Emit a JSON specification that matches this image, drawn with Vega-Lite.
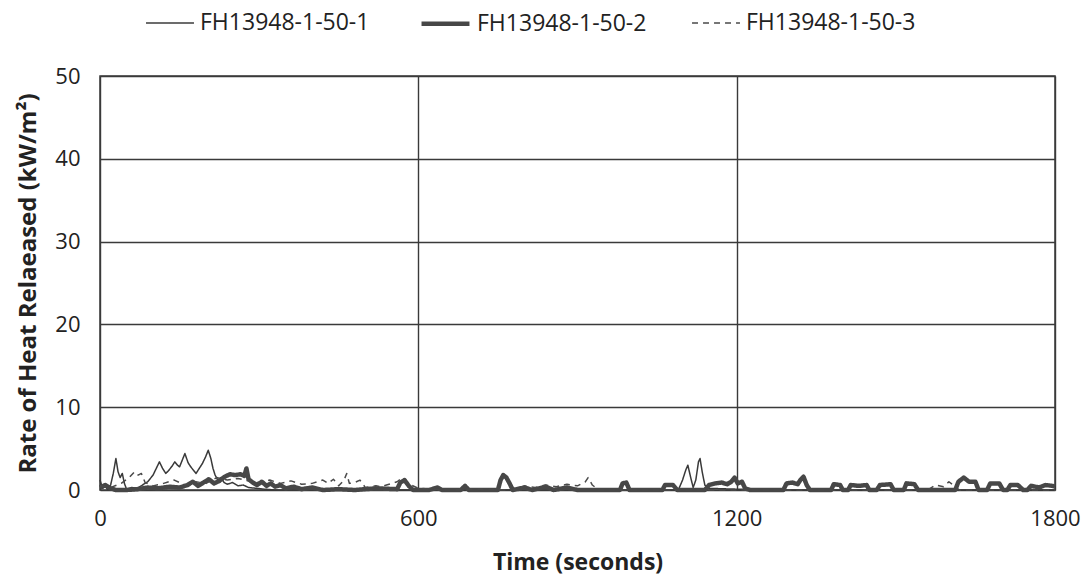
{
  "$schema": "https://vega.github.io/schema/vega-lite/v6.json",
  "autosize": {"type": "none"},
  "width": 955,
  "height": 414,
  "padding": {"left": 100, "top": 76, "right": 30, "bottom": 91},
  "background": "white",
  "config": {
    "font": "Open Sans",
    "view": {"stroke": "#3a3a3a", "strokeWidth": 1.5},
    "axis": {
      "gridColor": "#3a3a3a", "gridWidth": 1.4, "gridOpacity": 1,
      "domain": false, "ticks": false,
      "labelFont": "Open Sans", "labelFontSize": 22, "labelColor": "#222",
      "titleFont": "Open Sans", "titleFontSize": 23, "titleFontWeight": "bold", "titleColor": "#222"
    },
    "legend": {"labelFont": "Open Sans", "labelFontSize": 23, "labelColor": "#222", "labelLimit": 0, "padding": 0}
  },
  "datasets": {
    "rows": [
      {"t":0,"v":1.2,"s":"FH13948-1-50-1"},{"t":5,"v":0.2,"s":"FH13948-1-50-1"},{"t":10,"v":0.4,"s":"FH13948-1-50-1"},{"t":15,"v":0.0,"s":"FH13948-1-50-1"},{"t":20,"v":0.6,"s":"FH13948-1-50-1"},{"t":25,"v":2.0,"s":"FH13948-1-50-1"},{"t":30,"v":3.8,"s":"FH13948-1-50-1"},{"t":34,"v":2.2,"s":"FH13948-1-50-1"},{"t":38,"v":1.5,"s":"FH13948-1-50-1"},{"t":42,"v":2.0,"s":"FH13948-1-50-1"},{"t":46,"v":0.8,"s":"FH13948-1-50-1"},{"t":50,"v":0.1,"s":"FH13948-1-50-1"},{"t":60,"v":0.3,"s":"FH13948-1-50-1"},{"t":70,"v":0.2,"s":"FH13948-1-50-1"},{"t":80,"v":0.6,"s":"FH13948-1-50-1"},{"t":90,"v":1.0,"s":"FH13948-1-50-1"},{"t":100,"v":1.8,"s":"FH13948-1-50-1"},{"t":106,"v":2.6,"s":"FH13948-1-50-1"},{"t":112,"v":3.4,"s":"FH13948-1-50-1"},{"t":118,"v":2.6,"s":"FH13948-1-50-1"},{"t":124,"v":2.0,"s":"FH13948-1-50-1"},{"t":130,"v":2.4,"s":"FH13948-1-50-1"},{"t":136,"v":2.9,"s":"FH13948-1-50-1"},{"t":141,"v":3.4,"s":"FH13948-1-50-1"},{"t":146,"v":3.0,"s":"FH13948-1-50-1"},{"t":150,"v":2.8,"s":"FH13948-1-50-1"},{"t":155,"v":3.6,"s":"FH13948-1-50-1"},{"t":160,"v":4.4,"s":"FH13948-1-50-1"},{"t":166,"v":3.3,"s":"FH13948-1-50-1"},{"t":171,"v":2.8,"s":"FH13948-1-50-1"},{"t":176,"v":2.4,"s":"FH13948-1-50-1"},{"t":181,"v":2.0,"s":"FH13948-1-50-1"},{"t":187,"v":2.6,"s":"FH13948-1-50-1"},{"t":193,"v":3.2,"s":"FH13948-1-50-1"},{"t":199,"v":4.0,"s":"FH13948-1-50-1"},{"t":204,"v":4.8,"s":"FH13948-1-50-1"},{"t":209,"v":3.8,"s":"FH13948-1-50-1"},{"t":213,"v":2.6,"s":"FH13948-1-50-1"},{"t":217,"v":1.8,"s":"FH13948-1-50-1"},{"t":222,"v":1.2,"s":"FH13948-1-50-1"},{"t":228,"v":1.5,"s":"FH13948-1-50-1"},{"t":234,"v":0.9,"s":"FH13948-1-50-1"},{"t":240,"v":0.7,"s":"FH13948-1-50-1"},{"t":250,"v":0.9,"s":"FH13948-1-50-1"},{"t":260,"v":0.5,"s":"FH13948-1-50-1"},{"t":270,"v":0.6,"s":"FH13948-1-50-1"},{"t":280,"v":0.3,"s":"FH13948-1-50-1"},{"t":295,"v":0.2,"s":"FH13948-1-50-1"},{"t":310,"v":0.1,"s":"FH13948-1-50-1"},{"t":330,"v":0.0,"s":"FH13948-1-50-1"},{"t":400,"v":0.0,"s":"FH13948-1-50-1"},{"t":500,"v":0.0,"s":"FH13948-1-50-1"},{"t":600,"v":0.0,"s":"FH13948-1-50-1"},{"t":700,"v":0.0,"s":"FH13948-1-50-1"},{"t":800,"v":0.0,"s":"FH13948-1-50-1"},{"t":900,"v":0.0,"s":"FH13948-1-50-1"},{"t":1000,"v":0.0,"s":"FH13948-1-50-1"},{"t":1090,"v":0.0,"s":"FH13948-1-50-1"},{"t":1098,"v":1.2,"s":"FH13948-1-50-1"},{"t":1104,"v":2.4,"s":"FH13948-1-50-1"},{"t":1108,"v":3.0,"s":"FH13948-1-50-1"},{"t":1113,"v":1.6,"s":"FH13948-1-50-1"},{"t":1118,"v":0.3,"s":"FH13948-1-50-1"},{"t":1123,"v":1.2,"s":"FH13948-1-50-1"},{"t":1128,"v":3.4,"s":"FH13948-1-50-1"},{"t":1131,"v":3.8,"s":"FH13948-1-50-1"},{"t":1135,"v":2.2,"s":"FH13948-1-50-1"},{"t":1140,"v":0.6,"s":"FH13948-1-50-1"},{"t":1146,"v":0.2,"s":"FH13948-1-50-1"},{"t":1200,"v":0.1,"s":"FH13948-1-50-1"},{"t":1300,"v":0.0,"s":"FH13948-1-50-1"},{"t":1400,"v":0.0,"s":"FH13948-1-50-1"},{"t":1500,"v":0.0,"s":"FH13948-1-50-1"},{"t":1600,"v":0.0,"s":"FH13948-1-50-1"},{"t":1700,"v":0.0,"s":"FH13948-1-50-1"},{"t":1800,"v":0.0,"s":"FH13948-1-50-1"},

      {"t":0,"v":0.3,"s":"FH13948-1-50-2"},{"t":10,"v":0.6,"s":"FH13948-1-50-2"},{"t":20,"v":0.2,"s":"FH13948-1-50-2"},{"t":30,"v":0.0,"s":"FH13948-1-50-2"},{"t":50,"v":0.0,"s":"FH13948-1-50-2"},{"t":70,"v":0.1,"s":"FH13948-1-50-2"},{"t":90,"v":0.3,"s":"FH13948-1-50-2"},{"t":110,"v":0.2,"s":"FH13948-1-50-2"},{"t":130,"v":0.4,"s":"FH13948-1-50-2"},{"t":150,"v":0.3,"s":"FH13948-1-50-2"},{"t":165,"v":0.6,"s":"FH13948-1-50-2"},{"t":175,"v":1.0,"s":"FH13948-1-50-2"},{"t":185,"v":0.5,"s":"FH13948-1-50-2"},{"t":195,"v":0.9,"s":"FH13948-1-50-2"},{"t":205,"v":1.3,"s":"FH13948-1-50-2"},{"t":215,"v":0.8,"s":"FH13948-1-50-2"},{"t":225,"v":1.1,"s":"FH13948-1-50-2"},{"t":235,"v":1.6,"s":"FH13948-1-50-2"},{"t":245,"v":1.9,"s":"FH13948-1-50-2"},{"t":255,"v":1.8,"s":"FH13948-1-50-2"},{"t":265,"v":1.9,"s":"FH13948-1-50-2"},{"t":272,"v":1.7,"s":"FH13948-1-50-2"},{"t":276,"v":2.6,"s":"FH13948-1-50-2"},{"t":280,"v":1.3,"s":"FH13948-1-50-2"},{"t":288,"v":0.9,"s":"FH13948-1-50-2"},{"t":296,"v":0.6,"s":"FH13948-1-50-2"},{"t":305,"v":1.0,"s":"FH13948-1-50-2"},{"t":314,"v":0.5,"s":"FH13948-1-50-2"},{"t":322,"v":0.8,"s":"FH13948-1-50-2"},{"t":330,"v":0.4,"s":"FH13948-1-50-2"},{"t":340,"v":0.6,"s":"FH13948-1-50-2"},{"t":350,"v":0.2,"s":"FH13948-1-50-2"},{"t":365,"v":0.4,"s":"FH13948-1-50-2"},{"t":380,"v":0.1,"s":"FH13948-1-50-2"},{"t":400,"v":0.3,"s":"FH13948-1-50-2"},{"t":420,"v":0.0,"s":"FH13948-1-50-2"},{"t":450,"v":0.1,"s":"FH13948-1-50-2"},{"t":480,"v":0.0,"s":"FH13948-1-50-2"},{"t":520,"v":0.2,"s":"FH13948-1-50-2"},{"t":560,"v":0.1,"s":"FH13948-1-50-2"},{"t":566,"v":0.9,"s":"FH13948-1-50-2"},{"t":574,"v":1.2,"s":"FH13948-1-50-2"},{"t":582,"v":0.5,"s":"FH13948-1-50-2"},{"t":590,"v":0.0,"s":"FH13948-1-50-2"},{"t":620,"v":0.0,"s":"FH13948-1-50-2"},{"t":636,"v":0.3,"s":"FH13948-1-50-2"},{"t":645,"v":0.0,"s":"FH13948-1-50-2"},{"t":680,"v":0.0,"s":"FH13948-1-50-2"},{"t":688,"v":0.5,"s":"FH13948-1-50-2"},{"t":695,"v":0.0,"s":"FH13948-1-50-2"},{"t":750,"v":0.0,"s":"FH13948-1-50-2"},{"t":755,"v":1.2,"s":"FH13948-1-50-2"},{"t":760,"v":1.8,"s":"FH13948-1-50-2"},{"t":766,"v":1.5,"s":"FH13948-1-50-2"},{"t":772,"v":0.8,"s":"FH13948-1-50-2"},{"t":778,"v":0.0,"s":"FH13948-1-50-2"},{"t":800,"v":0.3,"s":"FH13948-1-50-2"},{"t":815,"v":0.0,"s":"FH13948-1-50-2"},{"t":840,"v":0.4,"s":"FH13948-1-50-2"},{"t":855,"v":0.0,"s":"FH13948-1-50-2"},{"t":880,"v":0.3,"s":"FH13948-1-50-2"},{"t":900,"v":0.0,"s":"FH13948-1-50-2"},{"t":980,"v":0.0,"s":"FH13948-1-50-2"},{"t":985,"v":0.8,"s":"FH13948-1-50-2"},{"t":992,"v":0.9,"s":"FH13948-1-50-2"},{"t":998,"v":0.0,"s":"FH13948-1-50-2"},{"t":1060,"v":0.0,"s":"FH13948-1-50-2"},{"t":1065,"v":0.6,"s":"FH13948-1-50-2"},{"t":1080,"v":0.6,"s":"FH13948-1-50-2"},{"t":1088,"v":0.0,"s":"FH13948-1-50-2"},{"t":1140,"v":0.0,"s":"FH13948-1-50-2"},{"t":1148,"v":0.6,"s":"FH13948-1-50-2"},{"t":1160,"v":0.8,"s":"FH13948-1-50-2"},{"t":1172,"v":0.9,"s":"FH13948-1-50-2"},{"t":1182,"v":0.7,"s":"FH13948-1-50-2"},{"t":1190,"v":1.0,"s":"FH13948-1-50-2"},{"t":1196,"v":1.5,"s":"FH13948-1-50-2"},{"t":1202,"v":0.8,"s":"FH13948-1-50-2"},{"t":1210,"v":1.0,"s":"FH13948-1-50-2"},{"t":1216,"v":0.2,"s":"FH13948-1-50-2"},{"t":1225,"v":0.0,"s":"FH13948-1-50-2"},{"t":1288,"v":0.0,"s":"FH13948-1-50-2"},{"t":1294,"v":0.8,"s":"FH13948-1-50-2"},{"t":1305,"v":0.9,"s":"FH13948-1-50-2"},{"t":1315,"v":0.7,"s":"FH13948-1-50-2"},{"t":1320,"v":1.2,"s":"FH13948-1-50-2"},{"t":1326,"v":1.6,"s":"FH13948-1-50-2"},{"t":1332,"v":0.6,"s":"FH13948-1-50-2"},{"t":1338,"v":0.0,"s":"FH13948-1-50-2"},{"t":1378,"v":0.0,"s":"FH13948-1-50-2"},{"t":1383,"v":0.7,"s":"FH13948-1-50-2"},{"t":1395,"v":0.6,"s":"FH13948-1-50-2"},{"t":1400,"v":0.0,"s":"FH13948-1-50-2"},{"t":1410,"v":0.0,"s":"FH13948-1-50-2"},{"t":1415,"v":0.6,"s":"FH13948-1-50-2"},{"t":1430,"v":0.5,"s":"FH13948-1-50-2"},{"t":1445,"v":0.6,"s":"FH13948-1-50-2"},{"t":1450,"v":0.0,"s":"FH13948-1-50-2"},{"t":1464,"v":0.0,"s":"FH13948-1-50-2"},{"t":1470,"v":0.6,"s":"FH13948-1-50-2"},{"t":1490,"v":0.7,"s":"FH13948-1-50-2"},{"t":1496,"v":0.0,"s":"FH13948-1-50-2"},{"t":1515,"v":0.0,"s":"FH13948-1-50-2"},{"t":1520,"v":0.8,"s":"FH13948-1-50-2"},{"t":1535,"v":0.7,"s":"FH13948-1-50-2"},{"t":1542,"v":0.0,"s":"FH13948-1-50-2"},{"t":1612,"v":0.0,"s":"FH13948-1-50-2"},{"t":1618,"v":1.0,"s":"FH13948-1-50-2"},{"t":1628,"v":1.5,"s":"FH13948-1-50-2"},{"t":1638,"v":1.0,"s":"FH13948-1-50-2"},{"t":1650,"v":1.0,"s":"FH13948-1-50-2"},{"t":1656,"v":0.0,"s":"FH13948-1-50-2"},{"t":1672,"v":0.0,"s":"FH13948-1-50-2"},{"t":1678,"v":0.8,"s":"FH13948-1-50-2"},{"t":1695,"v":0.8,"s":"FH13948-1-50-2"},{"t":1702,"v":0.0,"s":"FH13948-1-50-2"},{"t":1710,"v":0.0,"s":"FH13948-1-50-2"},{"t":1716,"v":0.6,"s":"FH13948-1-50-2"},{"t":1730,"v":0.6,"s":"FH13948-1-50-2"},{"t":1740,"v":0.0,"s":"FH13948-1-50-2"},{"t":1748,"v":0.0,"s":"FH13948-1-50-2"},{"t":1755,"v":0.5,"s":"FH13948-1-50-2"},{"t":1770,"v":0.3,"s":"FH13948-1-50-2"},{"t":1782,"v":0.6,"s":"FH13948-1-50-2"},{"t":1795,"v":0.5,"s":"FH13948-1-50-2"},{"t":1800,"v":0.4,"s":"FH13948-1-50-2"},

      {"t":0,"v":0.5,"s":"FH13948-1-50-3"},{"t":20,"v":0.3,"s":"FH13948-1-50-3"},{"t":40,"v":0.8,"s":"FH13948-1-50-3"},{"t":55,"v":1.5,"s":"FH13948-1-50-3"},{"t":65,"v":2.2,"s":"FH13948-1-50-3"},{"t":72,"v":1.8,"s":"FH13948-1-50-3"},{"t":78,"v":2.0,"s":"FH13948-1-50-3"},{"t":85,"v":0.9,"s":"FH13948-1-50-3"},{"t":100,"v":0.5,"s":"FH13948-1-50-3"},{"t":120,"v":0.8,"s":"FH13948-1-50-3"},{"t":140,"v":1.2,"s":"FH13948-1-50-3"},{"t":160,"v":0.6,"s":"FH13948-1-50-3"},{"t":180,"v":1.0,"s":"FH13948-1-50-3"},{"t":200,"v":0.8,"s":"FH13948-1-50-3"},{"t":220,"v":1.5,"s":"FH13948-1-50-3"},{"t":240,"v":1.2,"s":"FH13948-1-50-3"},{"t":260,"v":1.4,"s":"FH13948-1-50-3"},{"t":280,"v":1.1,"s":"FH13948-1-50-3"},{"t":300,"v":0.9,"s":"FH13948-1-50-3"},{"t":320,"v":1.2,"s":"FH13948-1-50-3"},{"t":340,"v":0.8,"s":"FH13948-1-50-3"},{"t":360,"v":1.1,"s":"FH13948-1-50-3"},{"t":380,"v":0.7,"s":"FH13948-1-50-3"},{"t":400,"v":0.8,"s":"FH13948-1-50-3"},{"t":420,"v":1.2,"s":"FH13948-1-50-3"},{"t":430,"v":0.8,"s":"FH13948-1-50-3"},{"t":440,"v":1.3,"s":"FH13948-1-50-3"},{"t":450,"v":0.5,"s":"FH13948-1-50-3"},{"t":460,"v":1.2,"s":"FH13948-1-50-3"},{"t":465,"v":2.0,"s":"FH13948-1-50-3"},{"t":470,"v":0.8,"s":"FH13948-1-50-3"},{"t":480,"v":0.9,"s":"FH13948-1-50-3"},{"t":490,"v":1.2,"s":"FH13948-1-50-3"},{"t":500,"v":0.3,"s":"FH13948-1-50-3"},{"t":520,"v":0.5,"s":"FH13948-1-50-3"},{"t":530,"v":0.4,"s":"FH13948-1-50-3"},{"t":540,"v":0.6,"s":"FH13948-1-50-3"},{"t":560,"v":1.0,"s":"FH13948-1-50-3"},{"t":570,"v":1.5,"s":"FH13948-1-50-3"},{"t":580,"v":0.8,"s":"FH13948-1-50-3"},{"t":600,"v":0.2,"s":"FH13948-1-50-3"},{"t":650,"v":0.0,"s":"FH13948-1-50-3"},{"t":700,"v":0.1,"s":"FH13948-1-50-3"},{"t":780,"v":0.0,"s":"FH13948-1-50-3"},{"t":800,"v":0.5,"s":"FH13948-1-50-3"},{"t":820,"v":0.3,"s":"FH13948-1-50-3"},{"t":840,"v":0.6,"s":"FH13948-1-50-3"},{"t":860,"v":0.4,"s":"FH13948-1-50-3"},{"t":880,"v":0.7,"s":"FH13948-1-50-3"},{"t":900,"v":0.5,"s":"FH13948-1-50-3"},{"t":915,"v":1.0,"s":"FH13948-1-50-3"},{"t":920,"v":1.5,"s":"FH13948-1-50-3"},{"t":928,"v":0.6,"s":"FH13948-1-50-3"},{"t":940,"v":0.0,"s":"FH13948-1-50-3"},{"t":1000,"v":0.0,"s":"FH13948-1-50-3"},{"t":1100,"v":0.0,"s":"FH13948-1-50-3"},{"t":1200,"v":0.0,"s":"FH13948-1-50-3"},{"t":1300,"v":0.0,"s":"FH13948-1-50-3"},{"t":1400,"v":0.0,"s":"FH13948-1-50-3"},{"t":1500,"v":0.0,"s":"FH13948-1-50-3"},{"t":1560,"v":0.0,"s":"FH13948-1-50-3"},{"t":1575,"v":0.6,"s":"FH13948-1-50-3"},{"t":1590,"v":0.4,"s":"FH13948-1-50-3"},{"t":1600,"v":1.0,"s":"FH13948-1-50-3"},{"t":1610,"v":0.5,"s":"FH13948-1-50-3"},{"t":1620,"v":0.0,"s":"FH13948-1-50-3"},{"t":1700,"v":0.0,"s":"FH13948-1-50-3"},{"t":1800,"v":0.0,"s":"FH13948-1-50-3"}
    ]
  },
  "data": {"name": "rows"},
  "mark": {"type": "line", "strokeJoin": "round"},
  "encoding": {
    "x": {
      "field": "t", "type": "quantitative",
      "scale": {"domain": [0, 1800], "nice": false},
      "axis": {"values": [0, 600, 1200, 1800], "format": "d", "title": "Time (seconds)", "labelPadding": 18, "titlePadding": 22, "labelFlush": false}
    },
    "y": {
      "field": "v", "type": "quantitative",
      "scale": {"domain": [0, 50], "nice": false},
      "axis": {"values": [0, 10, 20, 30, 40, 50], "title": "Rate of Heat Relaeased (kW/m²)", "titleFontSize": 24, "labelPadding": 20, "titlePadding": 14}
    },
    "color": {
      "field": "s", "type": "nominal",
      "scale": {"type": "ordinal", "domain": ["FH13948-1-50-1", "FH13948-1-50-2", "FH13948-1-50-3"], "range": ["#3a3a3a", "#474747", "#4a4a4a"]},
      "legend": {"title": null, "orient": "none", "direction": "horizontal", "legendX": 45, "legendY": -79, "symbolType": "stroke", "symbolSize": 2300, "labelOffset": 5, "columnPadding": 42}
    },
    "strokeWidth": {
      "field": "s", "type": "nominal",
      "scale": {"type": "ordinal", "domain": ["FH13948-1-50-1", "FH13948-1-50-2", "FH13948-1-50-3"], "range": [1.5, 4.5, 1.5]},
      "legend": {"title": null, "orient": "none", "direction": "horizontal", "legendX": 45, "legendY": -79, "symbolType": "stroke", "symbolSize": 2300, "labelOffset": 5, "columnPadding": 42}
    },
    "strokeDash": {
      "field": "s", "type": "nominal",
      "scale": {"type": "ordinal", "domain": ["FH13948-1-50-1", "FH13948-1-50-2", "FH13948-1-50-3"], "range": [[1, 0], [1, 0], [6, 5]]},
      "legend": {"title": null, "orient": "none", "direction": "horizontal", "legendX": 45, "legendY": -79, "symbolType": "stroke", "symbolSize": 2300, "labelOffset": 5, "columnPadding": 42}
    }
  }
}
